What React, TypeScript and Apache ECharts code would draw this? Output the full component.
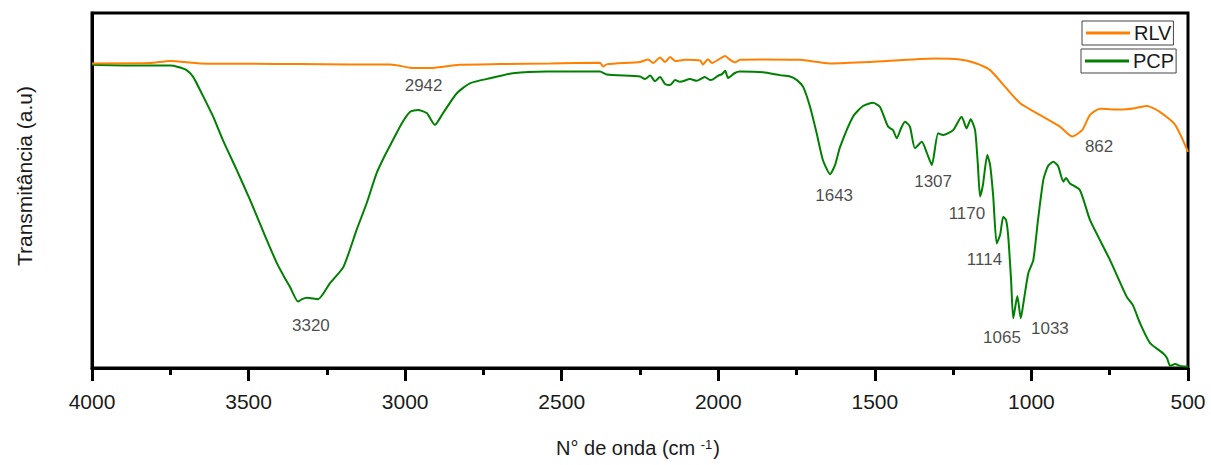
import React, { useEffect, useRef } from "react";
import * as echarts from "echarts";

// Wavenumber (cm-1) / transmittance (a.u., 0-100)
const rlvWave = [4000, 3815, 3751, 3655, 3495, 3336, 3176, 3048, 2984, 2943, 2905, 2825, 2697, 2537, 2378, 2368, 2355, 2250, 2224, 2208, 2186, 2170, 2154, 2138, 2106, 2058, 2049, 2033, 2020, 2001, 1978, 1962, 1946, 1931, 1867, 1739, 1643, 1515, 1308, 1228, 1180, 1132, 1084, 1036, 973, 909, 870, 838, 813, 781, 717, 669, 631, 589, 541, 500];
const rlvT = [85.8, 85.9, 86.5, 85.8, 85.7, 85.6, 85.5, 85.5, 84.6, 84.5, 84.6, 85.4, 85.6, 85.8, 86.0, 84.9, 85.6, 86.2, 86.9, 85.9, 87.5, 86.2, 87.6, 86.5, 86.8, 86.6, 85.5, 87.0, 85.9, 86.8, 87.9, 86.8, 86.1, 86.8, 86.9, 86.8, 85.8, 86.2, 87.2, 86.9, 85.9, 83.9, 79.2, 74.6, 71.3, 68.0, 65.2, 67.0, 71.3, 73.0, 72.8, 73.2, 73.8, 72.1, 68.5, 60.9];

const pcpWave = [4000, 3879, 3751, 3725, 3698, 3677, 3655, 3634, 3613, 3582, 3538, 3495, 3453, 3410, 3384, 3368, 3342, 3329, 3314, 3278, 3240, 3197, 3155, 3123, 3091, 3064, 3039, 3011, 2984, 2959, 2931, 2905, 2879, 2835, 2793, 2729, 2656, 2548, 2378, 2356, 2250, 2234, 2218, 2202, 2186, 2170, 2154, 2138, 2122, 2090, 2069, 2043, 2026, 2017, 2001, 1988, 1978, 1969, 1962, 1947, 1931, 1857, 1803, 1771, 1749, 1729, 1707, 1686, 1666, 1643, 1627, 1611, 1570, 1538, 1506, 1484, 1458, 1442, 1430, 1416, 1404, 1388, 1372, 1350, 1334, 1318, 1298, 1282, 1250, 1223, 1207, 1194, 1180, 1171, 1164, 1155, 1141, 1132, 1122, 1111, 1100, 1090, 1081, 1074, 1065, 1058, 1045, 1034, 1024, 1010, 994, 979, 962, 947, 930, 915, 898, 890, 877, 845, 813, 749, 696, 676, 653, 621, 579, 567, 557, 541, 525, 504, 500];
const pcpT = [85.4, 85.2, 85.2, 84.8, 83.9, 82.0, 78.3, 74.6, 70.8, 64.2, 55.8, 47.3, 38.4, 29.6, 25.3, 22.9, 18.7, 19.4, 19.8, 19.4, 23.9, 28.5, 38.9, 46.4, 54.9, 60.0, 64.2, 68.9, 72.2, 72.7, 71.8, 68.5, 71.8, 77.4, 80.2, 81.6, 83.0, 83.5, 83.5, 82.7, 82.1, 81.4, 82.4, 80.8, 82.0, 80.0, 79.7, 81.1, 80.6, 81.4, 80.9, 82.0, 81.1, 81.3, 82.3, 82.8, 83.7, 81.7, 82.1, 83.1, 83.5, 83.3, 82.5, 82.1, 81.1, 79.2, 73.6, 66.2, 58.6, 54.6, 57.2, 62.3, 70.8, 73.8, 74.7, 73.6, 68.0, 67.0, 64.7, 67.6, 69.4, 68.0, 61.9, 63.7, 60.6, 57.2, 66.1, 65.6, 67.0, 70.8, 67.5, 70.1, 67.0, 57.2, 48.3, 51.5, 60.0, 57.2, 48.3, 35.1, 37.5, 42.6, 41.7, 37.0, 24.8, 14.0, 20.3, 14.0, 19.2, 26.7, 30.4, 41.7, 53.0, 56.9, 58.1, 56.9, 52.5, 53.5, 52.0, 50.1, 41.7, 30.4, 20.1, 17.7, 12.6, 7.0, 4.1, 2.8, 0.6, 1.1, 0.6, 0.4, 0.5];

// Peak annotations
const peakLabels = ["2942", "3320", "1643", "1307", "1170", "1114", "1065", "1033", "862"];
const peakLabelWave = [2941, 3301, 1630, 1314, 1206, 1150, 1094, 941, 784];
const peakLabelT = [79.7, 12.1, 48.7, 52.5, 43.4, 30.6, 8.7, 11.1, 62.3];

const xTicks = { min: 500, max: 4000, interval: 500 };
const seriesNames = ["RLV", "PCP"];
const xTitle = "N° de onda (cm ";
const xTitleSup = "-1";
const yTitle = "Transmitância (a.u)";

const FONT = "'Liberation Sans', Arial, sans-serif";
const TXT = "#1a1a1a";

export default function App() {
  const ref = useRef<HTMLDivElement>(null);
  useEffect(() => {
    if (!ref.current) return;
    const chart = echarts.init(ref.current, null, { renderer: "svg" });
    const zip = (a: number[], b: number[]) => a.map((v, i) => [v, b[i]]);
    const legendCommon = {
      orient: "horizontal",
      itemWidth: 44,
      itemHeight: 3,
      itemGap: 0,
      icon: "rect",
      borderColor: "#444",
      borderWidth: 1,
      padding: [2, 2, 2, 4],
      textStyle: { fontSize: 20, lineHeight: 20, color: TXT, fontFamily: FONT, padding: [0, 0, 0, -1] },
      backgroundColor: "#fff",
    };
    chart.setOption({
      animation: false,
      textStyle: { fontFamily: FONT },
      grid: {
        left: 92,
        right: 23,
        top: 13,
        bottom: 97,
        show: true,
        borderColor: "#000",
        borderWidth: 3,
        backgroundColor: "transparent",
      },
      legend: [
        { ...legendCommon, data: [seriesNames[0]], left: 1082, top: 21 },
        { ...legendCommon, data: [seriesNames[1]], left: 1081, top: 49 },
      ],
      xAxis: {
        type: "value",
        inverse: true,
        min: xTicks.min,
        max: xTicks.max,
        interval: xTicks.interval,
        axisLine: { show: true, lineStyle: { color: "#000", width: 3 } },
        axisTick: { show: true, inside: false, length: 13, lineStyle: { color: "#000", width: 3 } },
        minorTick: { show: true, splitNumber: 2, length: 7, lineStyle: { color: "#000", width: 3 } },
        axisLabel: {
          fontSize: 21,
          color: TXT,
          margin: 23,
          fontFamily: FONT,
          formatter: (v: number) => String(v),
        },
        splitLine: { show: false },
        minorSplitLine: { show: false },
      },
      yAxis: {
        type: "value",
        min: 0,
        max: 100,
        axisLine: { show: true, lineStyle: { color: "#000", width: 3 } },
        axisTick: { show: false },
        axisLabel: { show: false },
        splitLine: { show: false },
      },
      graphic: [
        {
          type: "text",
          x: 638,
          y: 448,
          style: {
            text: "{base|" + xTitle + "}{sup|" + xTitleSup + "}{base|)}",
            font: "20px " + FONT,
            fill: TXT,
            align: "center",
            verticalAlign: "middle",
            rich: {
              base: { fontSize: 20, lineHeight: 20, fill: TXT, verticalAlign: "bottom", fontFamily: FONT },
              sup: { fontSize: 13, lineHeight: 13, fill: TXT, verticalAlign: "top", padding: [0, 1, 15, 0], fontFamily: FONT },
            },
          },
        },
        {
          type: "text",
          x: 24,
          y: 176,
          rotation: Math.PI / 2,
          style: {
            text: yTitle,
            font: "21px " + FONT,
            fill: TXT,
            align: "center",
            verticalAlign: "middle",
          },
        },
      ],
      series: [
        {
          name: seriesNames[0],
          type: "line",
          data: zip(rlvWave, rlvT),
          showSymbol: false,
          symbol: "none",
          smooth: 0.2,
          lineStyle: { color: "#FF8000", width: 2 },
          itemStyle: { color: "#FF8000" },
          z: 3,
        },
        {
          name: seriesNames[1],
          type: "line",
          data: zip(pcpWave, pcpT),
          showSymbol: false,
          symbol: "none",
          smooth: 0.2,
          lineStyle: { color: "#008000", width: 2 },
          itemStyle: { color: "#008000" },
          z: 2,
        },
        {
          name: "peaks",
          type: "scatter",
          data: zip(peakLabelWave, peakLabelT),
          symbolSize: 0,
          silent: true,
          label: {
            show: true,
            position: "inside",
            fontSize: 17,
            color: TXT,
            fontFamily: FONT,
            formatter: (p: any) => peakLabels[p.dataIndex],
          },
          z: 4,
        },
      ],
    });
    return () => chart.dispose();
  }, []);
  return <div ref={ref} style={{ width: 1211, height: 465, position: "absolute", left: 0, top: 0 }} />;
}
